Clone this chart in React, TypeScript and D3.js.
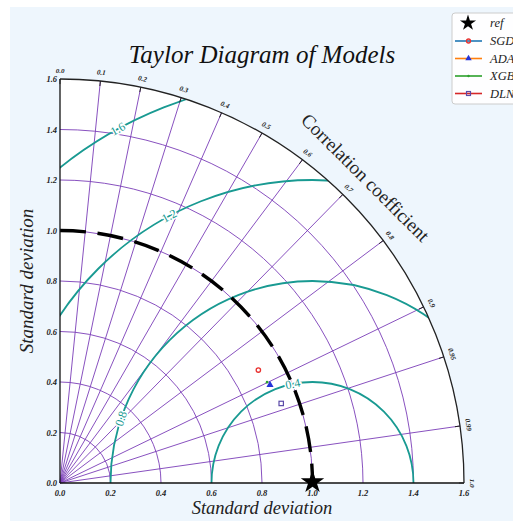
import React from "react";
import * as d3 from "d3";

// Taylor diagram: reference std and model statistics
const REF_STD = 1.0;
const STD_TICKS = [0, 0.2, 0.4, 0.6, 0.8, 1.0, 1.2, 1.4, 1.6];
const STD_GRID = [0.2, 0.4, 0.6, 0.8, 1.0, 1.2, 1.4];
const CORR_TICKS = [0, 0.1, 0.2, 0.3, 0.4, 0.5, 0.6, 0.7, 0.8, 0.9, 0.95, 0.99, 1.0];
const CORR_LABELS = ["0.0", "0.1", "0.2", "0.3", "0.4", "0.5", "0.6", "0.7", "0.8", "0.9", "0.95", "0.99", "1.0"];
const RMS_LEVELS = [0.4, 0.8, 1.2, 1.6];
const RMS_LABEL_ANGLES = [101.3, 161.4, 118.2, 118.8];

const MODEL_NAMES = ["SGD", "ADA", "XGB", "DLN"];
const MODEL_STD = [0.904, 0.918, 0.912, 0.931];
const MODEL_CORR = [0.869, 0.906, 0.899, 0.941];
const LINE_COLORS = ["#1f77b4", "#ff7f0e", "#2ca02c", "#d62728"];
const MARKER_COLORS = ["#e8312f", "#2433d9", "#2ca02c", "#5b4aa8"];
const MARKERS = ["circle", "triangle", "dot", "square"];

const W = 513;
const H = 521;
const OX = 60;
const OY = 483;
const MAX_STD = 1.6;

const FONT = "'Liberation Serif', 'DejaVu Serif', serif";
const PURPLE = "#7a3db8";
const TEAL = "#199a92";

const r = d3.scaleLinear().domain([0, MAX_STD]).range([0, 404]);

function polar(s: number, thetaRad: number): [number, number] {
  return [OX + r(s) * Math.cos(thetaRad), OY - r(s) * Math.sin(thetaRad)];
}

function quarterArc(s: number): string {
  const p = d3.path();
  p.moveTo(OX, OY - r(s));
  p.arc(OX, OY, r(s), -Math.PI / 2, 0);
  return p.toString();
}

function quarterDisk(): string {
  const p = d3.path();
  p.moveTo(OX, OY);
  p.lineTo(OX, OY - r(MAX_STD));
  p.arc(OX, OY, r(MAX_STD), -Math.PI / 2, 0);
  p.closePath();
  return p.toString();
}

function rmsArc(level: number): string {
  const cx = OX + r(REF_STD);
  const p = d3.path();
  p.moveTo(cx - r(level), OY);
  p.arc(cx, OY, r(level), -Math.PI, 0);
  return p.toString();
}

function Marker({ kind, x, y, color, scale = 1 }: { kind: string; x: number; y: number; color: string; scale?: number }) {
  if (kind === "circle")
    return <circle cx={x} cy={y} r={2.2 * scale} fill="none" stroke={color} strokeWidth={1.3} />;
  if (kind === "triangle")
    return (
      <path
        d={d3.symbol(d3.symbolTriangle, 22 * scale * scale)() as string}
        transform={`translate(${x},${y})`}
        fill={color}
      />
    );
  if (kind === "square")
    return (
      <rect x={x - 2.2 * scale} y={y - 2.2 * scale} width={4.4 * scale} height={4.4 * scale} fill="none" stroke={color} strokeWidth={1.2} />
    );
  return <circle cx={x} cy={y} r={1.3 * scale} fill={color} />;
}

export default function App() {
  const R = r(MAX_STD);
  const tickFont = { fontFamily: FONT, fontStyle: "italic", fontWeight: 700 } as const;
  const refX = OX + r(REF_STD);

  return (
    <svg
      width={W}
      height={H}
      style={{ position: "absolute", left: 0, top: 0 }}
      xmlns="http://www.w3.org/2000/svg"
    >
      <defs>
        <clipPath id="quarter">
          <path d={quarterDisk()} />
        </clipPath>
      </defs>
      <rect x={10} y={7} width={W - 10} height={H - 7} fill="#eef6fd" />

      {/* plotting area */}
      <path d={quarterDisk()} fill="#ffffff" />

      {/* std-dev grid arcs */}
      {STD_GRID.map((s) => (
        <path key={"g" + s} d={quarterArc(s)} fill="none" stroke={PURPLE} strokeWidth={0.9} />
      ))}
      {/* correlation grid rays */}
      {CORR_TICKS.filter((c) => c > 0 && c < 1).map((c) => {
        const [x, y] = polar(MAX_STD, Math.acos(c));
        return <line key={"c" + c} x1={OX} y1={OY} x2={x} y2={y} stroke={PURPLE} strokeWidth={0.9} />;
      })}

      {/* centred RMS difference contours */}
      <g clipPath="url(#quarter)">
        {RMS_LEVELS.map((lv) => (
          <path key={"rms" + lv} d={rmsArc(lv)} fill="none" stroke={TEAL} strokeWidth={1.8} />
        ))}
      </g>
      {RMS_LEVELS.map((lv, i) => {
        const a = (RMS_LABEL_ANGLES[i] * Math.PI) / 180;
        const x = refX + r(lv) * Math.cos(a);
        const y = OY - r(lv) * Math.sin(a);
        return (
          <text
            key={"rl" + lv}
            x={x}
            y={y}
            transform={`rotate(${90 - RMS_LABEL_ANGLES[i]},${x},${y})`}
            textAnchor="middle"
            dominantBaseline="central"
            fontFamily={FONT}
            fontSize={12}
            fill={TEAL}
            stroke="#ffffff"
            strokeWidth={3}
            paintOrder="stroke"
          >
            {lv.toFixed(1)}
          </text>
        );
      })}

      {/* reference std arc */}
      <path d={quarterArc(REF_STD)} fill="none" stroke="#000" strokeWidth={3.4} strokeDasharray="26 11.7" />

      {/* axes and outer boundary */}
      <path d={quarterArc(MAX_STD)} fill="none" stroke="#222" strokeWidth={1.3} />
      <line x1={OX} y1={OY} x2={OX} y2={OY - R} stroke="#111" strokeWidth={1.3} />
      <line x1={OX} y1={OY} x2={OX + R} y2={OY} stroke="#111" strokeWidth={1.3} />

      {/* std tick labels */}
      {STD_TICKS.map((s) => (
        <g key={"st" + s}>
          <text x={OX - 3} y={OY - r(s)} textAnchor="end" dominantBaseline="central" fontSize={8.5} fill="#222" {...tickFont}>
            {s.toFixed(1)}
          </text>
          <text x={OX + r(s)} y={OY + 12.5} textAnchor="middle" fontSize={8.5} fill="#222" {...tickFont}>
            {s.toFixed(1)}
          </text>
        </g>
      ))}

      {/* correlation tick marks and labels */}
      {CORR_TICKS.map((c, i) => {
        const th = Math.acos(c);
        const [x1, y1] = polar(MAX_STD, th);
        const [x2, y2] = polar(MAX_STD - 0.02, th);
        const [lx, ly] = polar(MAX_STD + 0.025, th);
        const rot = 90 - (th * 180) / Math.PI;
        return (
          <g key={"ct" + c}>
            <line x1={x1} y1={y1} x2={x2} y2={y2} stroke="#222" strokeWidth={1} />
            <text
              x={lx}
              y={ly}
              transform={`rotate(${rot},${lx},${ly})`}
              textAnchor="middle"
              fontSize={7}
              fill="#222"
              {...tickFont}
            >
              {CORR_LABELS[i]}
            </text>
          </g>
        );
      })}

      {/* model points */}
      {MODEL_NAMES.map((m, i) => {
        const [x, y] = polar(MODEL_STD[i], Math.acos(MODEL_CORR[i]));
        return <Marker key={"pt" + m} kind={MARKERS[i]} x={x} y={y} color={MARKER_COLORS[i]} />;
      })}

      {/* reference point */}
      <path d={d3.symbol(d3.symbolStar, 170)() as string} transform={`translate(${refX},${OY - 1})`} fill="#000" />

      {/* titles */}
      <text x={262} y={63} textAnchor="middle" fontFamily={FONT} fontStyle="italic" fontSize={25} fill="#111">
        Taylor Diagram of Models
      </text>
      <text x={262} y={514} textAnchor="middle" fontFamily={FONT} fontStyle="italic" fontSize={18.5} fill="#222">
        Standard deviation
      </text>
      <text
        x={33}
        y={281}
        transform="rotate(-90,33,281)"
        textAnchor="middle"
        fontFamily={FONT}
        fontStyle="italic"
        fontSize={19}
        fill="#222"
      >
        Standard deviation
      </text>
      {(() => {
        const [x, y] = polar(1.685, Math.PI / 4);
        return (
          <text
            x={x}
            y={y}
            transform={`rotate(45,${x},${y})`}
            textAnchor="middle"
            fontFamily={FONT}
            fontSize={19}
            fill="#222"
          >
            Correlation coefficient
          </text>
        );
      })()}

      {/* legend */}
      <g>
        <rect x={452} y={13} width={70} height={91} rx={3} fill="#ffffff" fillOpacity={0.9} stroke="#cccccc" strokeWidth={1} />
        <path d={d3.symbol(d3.symbolStar, 80)() as string} transform={`translate(468,23)`} fill="#000" />
        <text x={490} y={27} fontFamily={FONT} fontStyle="italic" fontSize={12.5} fill="#222">
          ref
        </text>
        {MODEL_NAMES.map((m, i) => {
          const y = 41 + i * 17.5;
          return (
            <g key={"lg" + m}>
              <line x1={455} x2={482} y1={y} y2={y} stroke={LINE_COLORS[i]} strokeWidth={1.6} />
              <Marker kind={MARKERS[i]} x={468.5} y={y} color={MARKER_COLORS[i]} scale={0.9} />
              <text x={490} y={y + 4.2} fontFamily={FONT} fontStyle="italic" fontSize={12.5} fill="#222">
                {m}
              </text>
            </g>
          );
        })}
      </g>
    </svg>
  );
}
